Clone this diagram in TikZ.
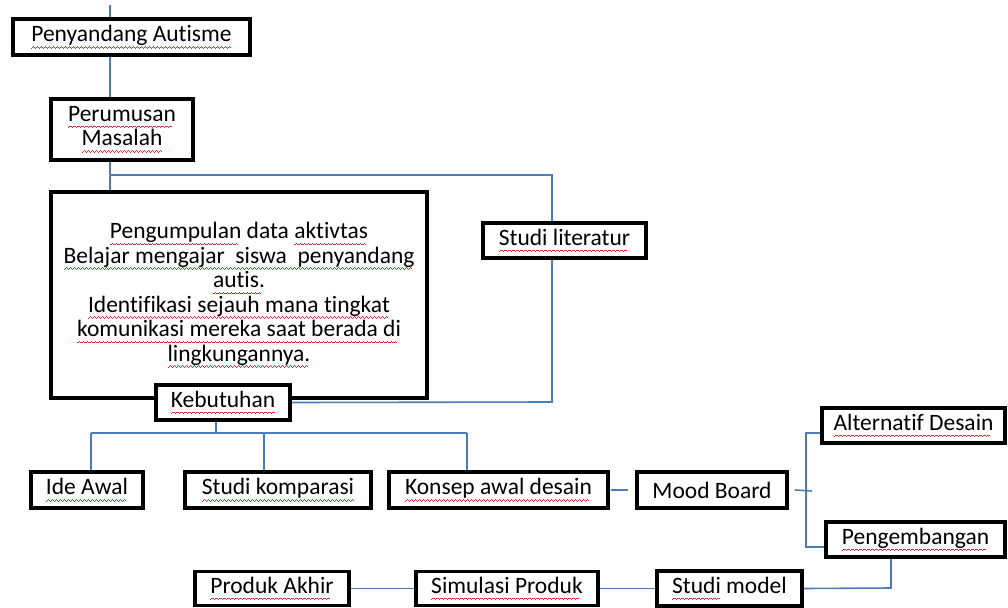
\documentclass[tikz,border=0pt]{standalone}
\usepackage{fontspec}
\setmainfont{Carlito}[Ligatures=NoCommon]
\usetikzlibrary{backgrounds}
\definecolor{conblue}{HTML}{4A7EBB}
\definecolor{wavered}{HTML}{E8282E}
\newsavebox\wavebox
\sbox\wavebox{{\color{wavered}\rule[-1.1pt]{1pt}{0.9pt}\rule[-0.4pt]{1pt}{0.9pt}\rule[0.3pt]{1pt}{0.9pt}\rule[-0.4pt]{1pt}{0.9pt}}}
\newcommand\sq[1]{\setbox0\hbox{#1}\leavevmode\rlap{\lower5.5pt\hbox to \wd0{\leaders\copy\wavebox\hfil}}\box0\relax}
\tikzset{
  boxnode/.style={draw=black, line width=3.2pt, fill=white, inner sep=0pt, align=center,
    font=\fontsize{23.5}{24.5}\selectfont},
  conn/.style={draw=conblue, line width=1.6pt}
}
\begin{document}
\begin{tikzpicture}[x=1pt,y=-1pt]
\useasboundingbox (0,0) rectangle (1008,607);
% coordinates
\coordinate (t0) at (110,5);
\coordinate (c1) at (110,175);
\coordinate (c2) at (552,175);
\coordinate (c3) at (552,402);
\coordinate (b0) at (216,433);
\coordinate (bl) at (91,433);
\coordinate (bm) at (264,433);
\coordinate (br) at (467,433);
\coordinate (jt) at (806,433);
\coordinate (jb) at (806,547);
\coordinate (jr) at (812,491);
\coordinate (k) at (891,588);
% nodes
\path
 (131.5,37) node[boxnode, minimum width=237pt, minimum height=36pt] (pa) {\sq{Penyandang Autisme}}
 (122,129.5) node[boxnode, minimum width=142pt, minimum height=61pt] (pm) {\sq{Perumusan}\\\sq{Masalah}}
 (239,295) node[boxnode, minimum width=376pt, minimum height=206pt] (big)
   {\sq{Pengumpulan} data \sq{aktivtas}\\
    \sq{Belajar mengajar\ \ siswa\ \ penyandang}\\
    \sq{autis.}\\
    \sq{Identifikasi sejauh mana tingkat}\\
    \sq{komunikasi mereka saat berada di}\\
    \sq{lingkungannya.}}
 (564.5,240.5) node[boxnode, minimum width=163pt, minimum height=35pt] (sl) {\sq{Studi literatur}}
 (223,402.5) node[boxnode, minimum width=134pt, minimum height=35pt] (keb) {\sq{Kebutuhan}}
 (87,490) node[boxnode, minimum width=112pt, minimum height=36pt] (ide) {\sq{Ide Awal}}
 (278,490) node[boxnode, minimum width=186pt, minimum height=36pt] (sk) {\sq{Studi komparasi}}
 (498.5,490) node[boxnode, minimum width=219pt, minimum height=36pt] (kad) {\sq{Konsep awal desain}}
 (712,490) node[boxnode, minimum width=150pt, minimum height=36pt] (mb) {Mood Board}
 (913.5,425.5) node[boxnode, minimum width=183pt, minimum height=35pt] (ad) {\sq{Alternatif Desain}}
 (915.5,539.5) node[boxnode, minimum width=179pt, minimum height=35pt] (pg) {\sq{Pengembangan}}
 (729.5,588.5) node[boxnode, minimum width=145pt, minimum height=35pt] (sm) {\sq{Studi} model}
 (507,588.5) node[boxnode, minimum width=182pt, minimum height=34pt] (sp) {\sq{Simulasi Produk}}
 (272,588.5) node[boxnode, minimum width=154pt, minimum height=34pt] (pak) {\sq{Produk Akhir}};
% connectors behind boxes
\begin{pgfonlayer}{background}
\fill[white] (0,0) rectangle (1008,607);
\draw[conn] (t0) -- (t0 |- pa.north);
\draw[conn] (t0 |- pa.south) -- (t0 |- pm.north);
\draw[conn] (t0 |- pm.south) -- (t0 |- big.north);
\draw[conn] (c1) -- (c2) -- (c3) -- (keb.east);
\draw[conn] (b0 |- keb.south) -- (b0);
\draw[conn] (bl) -- (br);
\draw[conn] (bl) -- (bl |- ide.north);
\draw[conn] (bm) -- (bm |- sk.north);
\draw[conn] (br) -- (br |- kad.north);
\draw[conn] ([xshift=1pt]kad.east) -- ([xshift=-7pt]mb.west);
\draw[conn] ([xshift=6pt]mb.east) -- (jr);
\draw[conn] (ad.west |- jt) -- (jt) -- (jb) -- (pg.west |- jb);
\draw[conn] (k |- pg.south) -- (k) -- (sm.east);
\draw[conn] (sp.east) -- (sm.west);
\draw[conn] (pak.east) -- (sp.west);
\end{pgfonlayer}
\end{tikzpicture}
\end{document}
